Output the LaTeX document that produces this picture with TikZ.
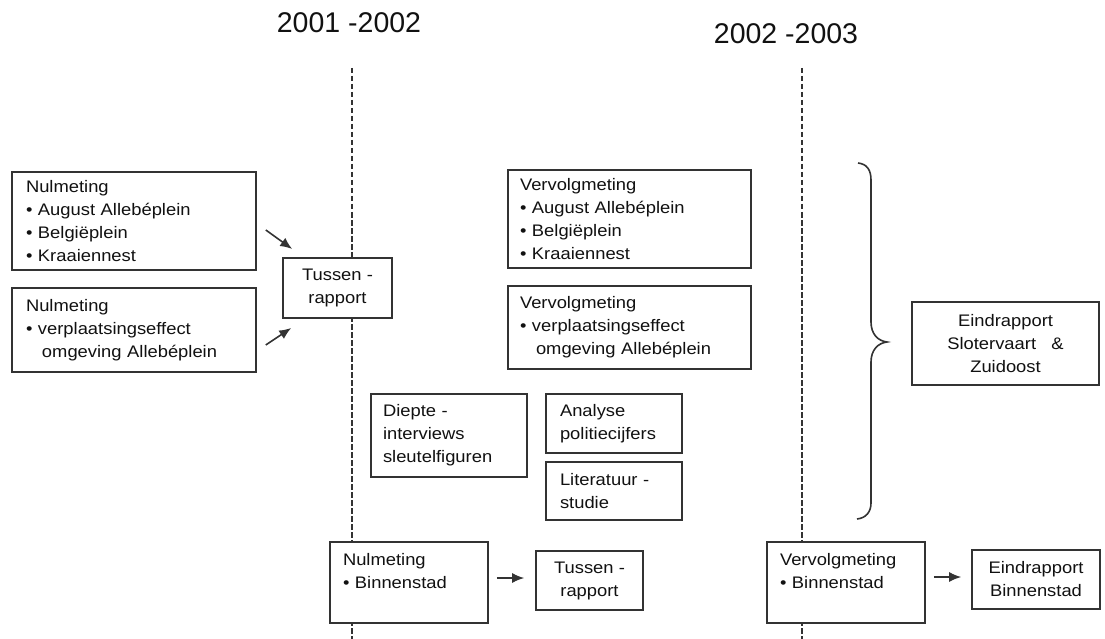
\documentclass[tikz,border=0pt]{standalone}
\usepackage{fontspec}
\setmainfont{Liberation Sans}[FakeStretch=1.1]
\newfontfamily\yearfont{Liberation Sans}
\usetikzlibrary{arrows.meta,calc}
\definecolor{ink}{HTML}{111111}
\definecolor{frame}{HTML}{333333}
\tikzset{
  bx/.style={draw=frame, line width=1.6pt, fill=white, text=ink, inner ysep=0pt,
    font=\fontsize{16.7}{23}\selectfont},
  lbx/.style={bx, align=left},
  cbx/.style={bx, align=center},
  arr/.style={draw=frame, line width=1.6pt, -{Latex[length=12pt,width=10pt]}},
  timeline/.style={draw=frame, line width=1.3pt, dash pattern=on 5.5pt off 2.5pt},
  yr/.style={text=ink, font=\yearfont\fontsize{28.5}{30}\selectfont, anchor=base, inner sep=0pt},
}
\newcommand{\bul}{\textbullet\ }
\begin{document}
\begin{tikzpicture}[x=1pt,y=-1pt]
\useasboundingbox (0,0) rectangle (1105,639);
% years
\node[yr] (y1) at (349,33) {2001 -2002};
\node[yr] (y2) at (786,43.5) {2002 -2003};
% timelines
\coordinate (l1t) at (352,68); \coordinate (l1b) at (352,639);
\coordinate (l2t) at (802,68); \coordinate (l2b) at (802,639);
\draw[timeline] (l1t) -- (l1b);
\draw[timeline] (l2t) -- (l2b);
% left boxes
\node[lbx, minimum width=244pt, minimum height=98pt, inner xsep=14pt, text width=216pt] (A1) at (134,221)
  {Nulmeting\\ \bul August Allebéplein\\ \bul Belgiëplein\\ \bul Kraaiennest};
\node[lbx, minimum width=244pt, minimum height=84pt, inner xsep=14pt, text width=216pt] (A2) at (134,330)
  {Nulmeting\\ \bul verplaatsingseffect\\ \phantom{\bul}\hspace{4pt}omgeving Allebéplein};
\node[cbx, minimum width=109pt, minimum height=60pt] (T1) at (337.5,288) {Tussen -\\ rapport};
% middle boxes
\node[lbx, minimum width=243pt, minimum height=98pt, inner xsep=12pt, text width=219pt] (V1) at (629.5,219)
  {Vervolgmeting\\ \bul August Allebéplein\\ \bul Belgiëplein\\ \bul Kraaiennest};
\node[lbx, minimum width=243pt, minimum height=83pt, inner xsep=12pt, text width=219pt] (V2) at (629.5,327.5)
  {Vervolgmeting\\ \bul verplaatsingseffect\\ \phantom{\bul}\hspace{4pt}omgeving Allebéplein};
\node[lbx, minimum width=156pt, minimum height=83pt, inner xsep=12pt, text width=132pt] (D) at (449,435.5)
  {Diepte -\\ interviews\\ sleutelfiguren};
\node[lbx, minimum width=136pt, minimum height=59pt, inner xsep=14pt, text width=108pt] (An) at (614,423.5)
  {Analyse\\ politiecijfers};
\node[lbx, minimum width=136pt, minimum height=58pt, inner xsep=14pt, text width=108pt] (Li) at (614,491)
  {Literatuur -\\ studie};
% bottom row
\node[lbx, minimum width=158pt, minimum height=81pt, inner xsep=13pt, text width=132pt] (NB) at (409,582.5)
  {Nulmeting\\ \bul Binnenstad\\ \mbox{}};
\node[cbx, minimum width=107pt, minimum height=59pt] (T2) at (589.5,580.5) {Tussen -\\ rapport};
\node[lbx, minimum width=158pt, minimum height=81pt, inner xsep=13pt, text width=132pt] (VB) at (846,582.5)
  {Vervolgmeting\\ \bul Binnenstad\\ \mbox{}};
\node[cbx, minimum width=128pt, minimum height=59pt] (EB) at (1036,579.5) {Eindrapport\\ Binnenstad};
% right
\node[cbx, minimum width=187pt, minimum height=83pt] (ES) at (1005.5,343.5)
  {Eindrapport\\ Slotervaart\ \ \ \&\\ Zuidoost};
% brace
\draw[draw=frame, line width=1.6pt]
  (858,163) .. controls (867,164) and (871,170) .. (871,180) -- (871,322)
  .. controls (871,334) and (878,341) .. (887,342)
  .. controls (878,343) and (871,350) .. (871,362) -- (871,503)
  .. controls (871,512) and (866,518) .. (857,519);
% arrows
\draw[arr] ($(A1.east)+(9,9)$) -- ($(T1.west)+(10,-39)$);
\draw[arr] ($(A2.east)+(9,15)$) -- ($(T1.west)+(9,40)$);
\draw[arr] ($(NB.east)+(8,-4.5)$) -- ($(T2.west)+(-11,-2.5)$);
\draw[arr] ($(VB.east)+(8,-5.5)$) -- ($(EB.west)+(-10,-2.5)$);
\end{tikzpicture}
\end{document}
